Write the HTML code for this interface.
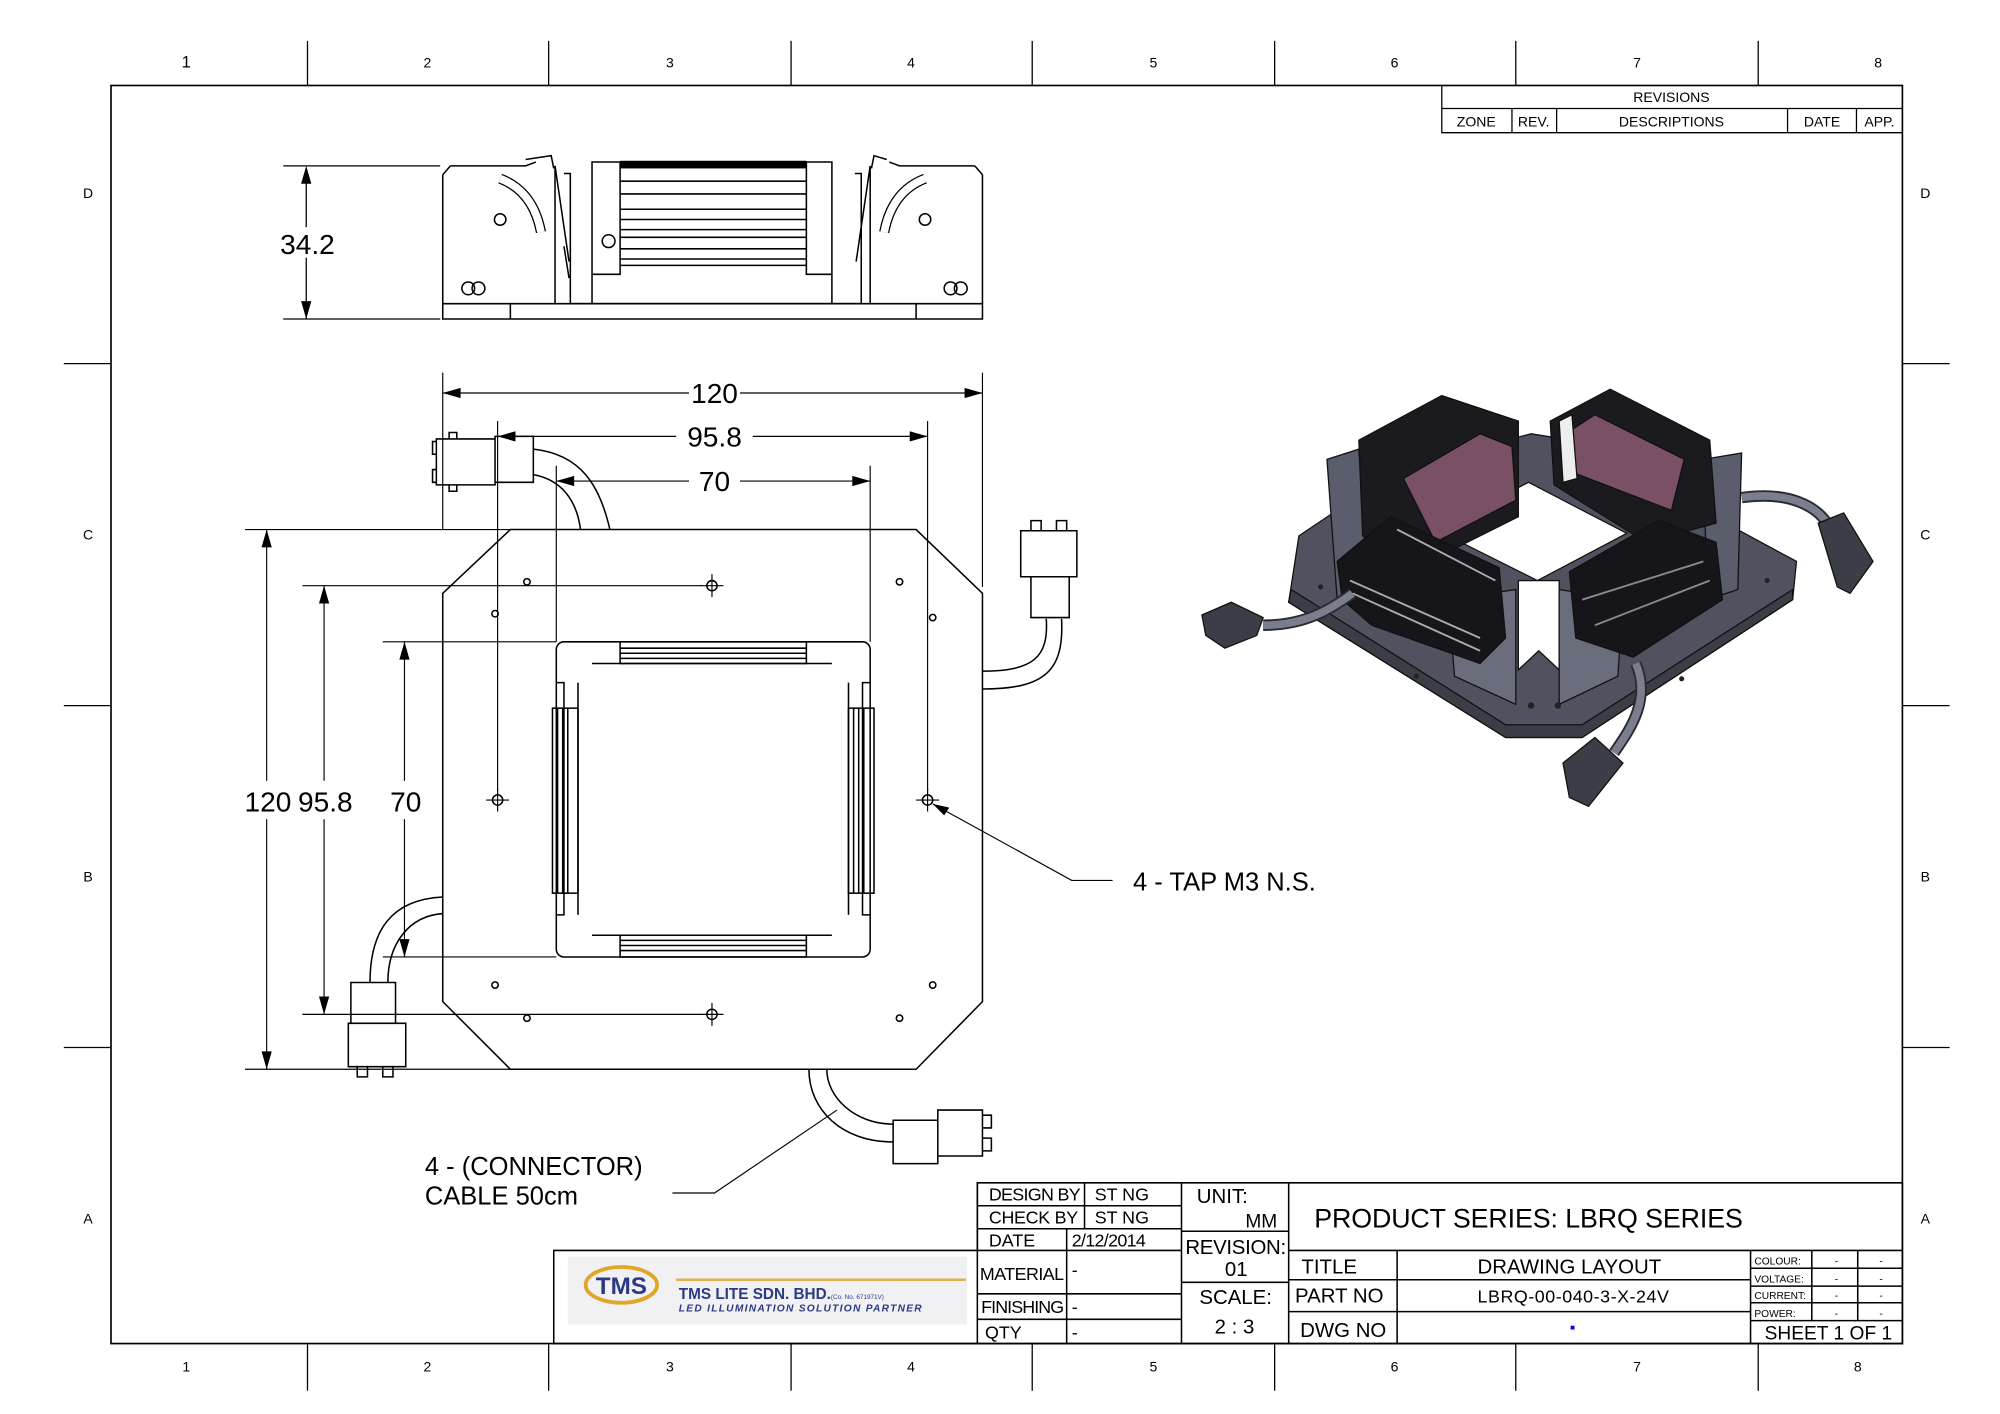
<!DOCTYPE html>
<html><head><meta charset="utf-8"><style>html,body{margin:0;padding:0;background:#fff}svg{display:block}</style></head>
<body>
<svg width="2000" height="1414" viewBox="0 0 1567.5 1108.2" preserveAspectRatio="none" xmlns="http://www.w3.org/2000/svg" font-family="'Liberation Sans', sans-serif">
<rect width="1568" height="1110" fill="#fff"/>
<g stroke="#000" fill="none" stroke-width="1">
<rect x="87" y="67" width="1404" height="986" stroke-width="1.3"/>
<path d="M241 32V67M430 32V67M620 32V67M809 32V67M999 32V67M1188 32V67M1378 32V67"/>
<path d="M241 1053V1090M430 1053V1090M620 1053V1090M809 1053V1090M999 1053V1090M1188 1053V1090M1378 1053V1090"/>
<path d="M50 285H87M50 553H87M50 821H87M1491 285H1528M1491 553H1528M1491 821H1528"/>
<path d="M1130 67V104H1491M1130 85H1491M1185 85V104M1220 85V104M1401 85V104M1455 85V104"/>
</g>
<g font-size="11" text-anchor="middle" fill="#000">
<text x="146" y="53" font-size="13">1</text><text x="335" y="53">2</text><text x="525" y="53">3</text><text x="714" y="53">4</text><text x="904" y="53">5</text><text x="1093" y="53">6</text><text x="1283" y="53">7</text><text x="1472" y="53">8</text>
<text x="146" y="1075">1</text><text x="335" y="1075">2</text><text x="525" y="1075">3</text><text x="714" y="1075">4</text><text x="904" y="1075">5</text><text x="1093" y="1075">6</text><text x="1283" y="1075">7</text><text x="1456" y="1075">8</text>
<text x="69" y="155">D</text><text x="69" y="423">C</text><text x="69" y="691">B</text><text x="69" y="959">A</text>
<text x="1509" y="155">D</text><text x="1509" y="423">C</text><text x="1509" y="691">B</text><text x="1509" y="959">A</text>
<text x="1310" y="80" font-size="11">REVISIONS</text>
<text x="1157" y="99">ZONE</text><text x="1202" y="99">REV.</text><text x="1310" y="99">DESCRIPTIONS</text><text x="1428" y="99">DATE</text><text x="1473" y="99">APP.</text>
</g>

<!-- ELEVATION VIEW -->
<g stroke="#000" fill="none" stroke-width="1.2">
<path d="M347 238H770V250H347Z"/><path d="M400 238V250M718 238V250"/>
<path d="M353 130H412L420 127M347 137L353 130M347 137V238M435 130V238"/>
<path d="M412 125L432 122L434 132M442 193L446 218"/>
<path d="M435 130L446 205"/>
<path d="M442 136H447V238H464"/>
<path d="M464 127H652V238H464Z"/>
<path d="M486 127V215H464M632 127V215H652"/>
<path d="M486 142H632M486 152H632M486 164H632M486 172H632M486 180H632M486 186H632M486 195H632M486 203H632M486 208H632"/>
<circle cx="392" cy="172" r="4.5"/><circle cx="725" cy="172" r="4.5"/>
<path d="M392 140Q418 150 424 182" stroke-width="8" stroke="#000"/><path d="M392 140Q418 150 424 182" stroke-width="6" stroke="#fff"/>
<path d="M725 140Q699 150 693 182" stroke-width="8" stroke="#000"/><path d="M725 140Q699 150 693 182" stroke-width="6" stroke="#fff"/>
<circle cx="477" cy="189" r="5"/>
<circle cx="367" cy="226" r="5"/><circle cx="375" cy="226" r="5"/><circle cx="745" cy="226" r="5"/><circle cx="753" cy="226" r="5"/>
<path d="M764 130H705L697 127M770 137L764 130M770 137V238M682 130V238M682 130L671 205M670 136H675V238H652"/>
<path d="M695 125L685 122L683 132"/>
</g>
<rect x="486" y="126" width="146" height="6" fill="#000"/>
<g stroke="#000" stroke-width="1"><path d="M222 130H345M222 250H345M240 132V250"/></g>
<path d="M240 130l-4 14h8z M240 250l-4 -14h8z" fill="#000"/>
<rect x="218" y="178" width="44" height="24" fill="#fff"/>
<text x="241" y="199" font-size="22" text-anchor="middle">34.2</text>

<!-- PLAN VIEW -->
<g stroke="#000" fill="none" stroke-width="1.2">
<path d="M400 415H718L770 465V785L718 838H400L347 785V465Z"/>
<rect x="436" y="503" width="246" height="247" rx="6"/>
<rect x="486" y="503" width="146" height="17"/><path d="M486 508H632M486 512H632M486 516H632M464 520H652"/>
<rect x="486" y="733" width="146" height="17"/><path d="M486 737H632M486 741H632M486 745H632M464 733H652"/>
<rect x="433" y="555" width="20" height="145"/><path d="M437 555V700M441 555V700M445 555V700M453 535V717M436 535H442V717H436"/>
<rect x="665" y="555" width="20" height="145"/><path d="M669 555V700M673 555V700M677 555V700M665 535V717M682 535H676V717H682"/>
<path d="M418 352C455 356 470 380 478 415M418 372C440 376 452 392 455 415" />
<path d="M832 485C834 525 820 540 770 540M820 485C822 515 810 526 770 526"/>
<path d="M347 703C306 705 290 730 290 770M347 716C320 718 304 740 304 770"/>
<path d="M634 838C634 870 660 895 700 895M648 838C648 860 670 881 700 881"/>
<path d="M342 344H388V380H342ZM388 342H418V378H388ZM342 346h-3v10h3M342 368h-3v10h3M352 344v-5h6v5M352 380v5h6v-5"/>
<path d="M800 416H844V452H800ZM808 452H838V484H808ZM808 416v-8h8v8M828 416v-8h8v8"/>
<path d="M275 770H310V802H275ZM273 802H318V836H273ZM280 836v8h8v-8M300 836v8h8v-8"/>
<path d="M700 878H735V912H700ZM735 870H770V906H735ZM770 874h7v10h-7M770 892h7v10h-7"/>
<circle cx="413" cy="456" r="2.5"/><circle cx="705" cy="456" r="2.5"/><circle cx="388" cy="481" r="2.5"/><circle cx="731" cy="484" r="2.5"/>
<circle cx="388" cy="772" r="2.5"/><circle cx="731" cy="772" r="2.5"/><circle cx="413" cy="798" r="2.5"/><circle cx="705" cy="798" r="2.5"/>
<circle cx="558" cy="459" r="4"/><circle cx="558" cy="795" r="4"/><circle cx="390" cy="627" r="4"/><circle cx="727" cy="627" r="4"/>
</g>
<g stroke="#000" stroke-width="0.9" fill="none">
<path d="M549 459H567M558 450V468M549 795H567M558 786V804M381 627H399M390 618V636M718 627H736M727 618V636"/>
<path d="M347 292V415M770 292V460M390 330V620M727 330V620M436 365V503M682 365V503"/>
<path d="M192 415H400M192 838H400M237 459H550M237 795H550M300 503H436M300 750H436"/>
<path d="M347 308H540M580 308H770M390 342H530M590 342H727M436 377H540M580 377H682"/>
<path d="M209 415V612M209 642V838M254 459V612M254 642V795M317 503V612M317 642V750"/>
<path d="M731 630L840 690H872M656 870L560 935H527"/>
</g>
<g fill="#000">
<path d="M347 308l14-4v8zM770 308l-14-4v8zM390 342l14-4v8zM727 342l-14-4v8zM436 377l14-4v8zM682 377l-14-4v8z"/>
<path d="M209 415l-4 14h8zM209 838l-4-14h8zM254 459l-4 14h8zM254 795l-4-14h8zM317 503l-4 14h8zM317 750l-4-14h8z"/>
<path d="M731 630l13 3-4 6z"/>
</g>
<g font-size="22" fill="#000" text-anchor="middle">
<text x="560" y="316">120</text><text x="560" y="350">95.8</text><text x="560" y="385">70</text>
<text x="210" y="636">120</text><text x="255" y="636">95.8</text><text x="318" y="636">70</text>
<text x="888" y="698" text-anchor="start" font-size="20">4 - TAP M3 N.S.</text>
<text x="333" y="921" text-anchor="start" font-size="20">4 - (CONNECTOR)</text>
<text x="333" y="944" text-anchor="start" font-size="20">CABLE 50cm</text>
</g>

<!-- ISOMETRIC -->
<g stroke="#111" stroke-width="1">
<path d="M1018 420L1100 365L1200 340L1232 345L1408 440L1405 470L1240 578L1180 578L1010 472Z" fill="#50535f"/>
<path d="M1010 472L1180 578L1240 578L1405 470V462L1240 568H1180L1012 462Z" fill="#3b3d47"/>
<path d="M1125 415L1198 378L1275 418L1205 455Z" fill="#fff"/>
<path d="M1190 455H1222V525L1206 510L1190 525Z" fill="#fff"/>
<path d="M1040 360L1065 352L1072 460L1048 470Z" fill="#5a5d6b"/>
<path d="M1335 360L1365 355L1362 462L1338 470Z" fill="#5a5d6b"/>
<path d="M1135 470L1188 462V552L1140 530Z" fill="#6a6d7b"/>
<path d="M1222 462L1272 470L1268 530L1222 552Z" fill="#6a6d7b"/>
<path d="M1065 345L1130 310L1190 330L1190 405L1110 445L1068 420Z" fill="#1b1b1f"/>
<path d="M1100 375L1160 340L1185 350L1188 392L1125 425Z" fill="#7a5064"/>
<path d="M1215 330L1262 305L1340 345L1345 410L1290 425L1218 380Z" fill="#1b1b1f"/>
<path d="M1230 338L1250 325L1320 360L1310 400L1232 370Z" fill="#7a5064"/>
<path d="M1222 330L1232 325L1236 375L1225 378Z" fill="#eee"/>
<path d="M1048 440L1090 405L1175 445L1180 500L1160 520L1075 490L1052 470Z" fill="#16161a"/>
<path d="M1058 455L1160 500M1060 465L1160 510M1095 415L1172 455" stroke="#aaa" stroke-width="1.5"/>
<path d="M1230 448L1300 408L1345 425L1350 470L1280 515L1235 500Z" fill="#16161a"/>
<path d="M1240 470L1335 440M1250 490L1340 455" stroke="#888" stroke-width="1.5"/>
<path d="M1060 465C1040 480 1020 490 990 490" stroke="#2a2b33" stroke-width="9" fill="none"/>
<path d="M1060 465C1040 480 1020 490 990 490" stroke="#7b7e8c" stroke-width="6" fill="none"/>
<path d="M1365 390C1400 385 1425 395 1435 415" stroke="#2a2b33" stroke-width="9" fill="none"/>
<path d="M1365 390C1400 385 1425 395 1435 415" stroke="#7b7e8c" stroke-width="6" fill="none"/>
<path d="M1282 520C1295 550 1275 575 1265 590" stroke="#2a2b33" stroke-width="9" fill="none"/>
<path d="M1282 520C1295 550 1275 575 1265 590" stroke="#7b7e8c" stroke-width="6" fill="none"/>
<path d="M942 482L965 472L990 484L985 498L960 508L945 498Z" fill="#3b3d47"/>
<path d="M1425 410L1445 402L1468 440L1450 465L1440 460Z" fill="#3b3d47"/>
<path d="M1225 598L1250 578L1272 598L1245 632L1230 625Z" fill="#3b3d47"/>
</g>
<g fill="#222">
<circle cx="1200" cy="553" r="2.5"/><circle cx="1221" cy="553" r="2.5"/><circle cx="1110" cy="530" r="2"/><circle cx="1318" cy="532" r="2"/>
<circle cx="1035" cy="460" r="2"/><circle cx="1385" cy="455" r="2"/>
</g>

<!-- TITLE BLOCK -->
<g stroke="#000" fill="none" stroke-width="1.2">
<path d="M766 927H1491V1053H434V980H766Z"/>
<path d="M766 927V1053M766 945H926M766 963H926M766 980H926M766 1014H926M766 1034H926M850 927V963M836 963V1053M926 927V1053"/>
<path d="M926 965H1010M926 1005H1010M1010 927V1053M1010 980H1491M1010 1003H1372M1010 1028H1372M1095 980V1053M1372 980V1053"/>
<path d="M1372 994H1491M1372 1008H1491M1372 1021H1491M1372 1035H1491M1420 980V1035M1456 980V1035"/>
</g>
<rect x="445" y="985" width="313" height="53" fill="#f1f1f4"/>
<ellipse cx="487" cy="1007" rx="28" ry="14" fill="none" stroke="#e0a628" stroke-width="3"/>
<text x="487" y="1014" font-size="19" font-weight="bold" fill="#2b3a82" text-anchor="middle">TMS</text>
<path d="M530 1003H757" stroke="#e0b050" stroke-width="2"/>
<text x="532" y="1018" font-size="12" font-weight="bold" fill="#2b3a82">TMS LITE SDN. BHD.<tspan font-size="5" font-weight="normal">(Co. No. 671971V)</tspan></text>
<text x="532" y="1028" font-size="8" font-style="italic" font-weight="bold" fill="#2b3a82" letter-spacing="1">LED ILLUMINATION SOLUTION PARTNER</text>
<g font-size="14" fill="#000">
<text x="775" y="941" textLength="72">DESIGN BY</text><text x="858" y="941">ST NG</text>
<text x="775" y="959" textLength="70">CHECK BY</text><text x="858" y="959">ST NG</text>
<text x="775" y="977">DATE</text><text x="840" y="977" textLength="58">2/12/2014</text>
<text x="768" y="1003" textLength="66">MATERIAL</text><text x="840" y="1000">-</text>
<text x="769" y="1029" textLength="65">FINISHING</text><text x="840" y="1029">-</text>
<text x="772" y="1049">QTY</text><text x="840" y="1049">-</text>
<text x="938" y="943" font-size="16">UNIT:</text><text x="1001" y="962" font-size="15" text-anchor="end">MM</text>
<text x="929" y="983" font-size="16" textLength="79">REVISION:</text><text x="960" y="1000" font-size="16">01</text>
<text x="940" y="1022" font-size="16">SCALE:</text><text x="952" y="1045" font-size="16">2 : 3</text>
<text x="1030" y="962" font-size="21" textLength="336">PRODUCT SERIES:  LBRQ SERIES</text>
<text x="1020" y="998" font-size="16">TITLE</text><text x="1158" y="998" font-size="16" textLength="144">DRAWING LAYOUT</text>
<text x="1015" y="1021" font-size="16">PART NO</text><text x="1158" y="1021" font-size="14" textLength="150">LBRQ-00-040-3-X-24V</text>
<text x="1019" y="1048" font-size="16">DWG NO</text>
<text x="1383" y="1050" font-size="15" textLength="100">SHEET 1 OF 1</text>
</g>
<rect x="1231" y="1039" width="3" height="3" fill="#00f"/>
<g font-size="8" fill="#000">
<text x="1375" y="991">COLOUR:</text><text x="1375" y="1005">VOLTAGE:</text><text x="1375" y="1018">CURRENT:</text><text x="1375" y="1032">POWER:</text>
<text x="1438" y="991">-</text><text x="1438" y="1005">-</text><text x="1438" y="1018">-</text><text x="1438" y="1032">-</text>
<text x="1473" y="991">-</text><text x="1473" y="1005">-</text><text x="1473" y="1018">-</text><text x="1473" y="1032">-</text>
</g>
</svg>
</body></html>
